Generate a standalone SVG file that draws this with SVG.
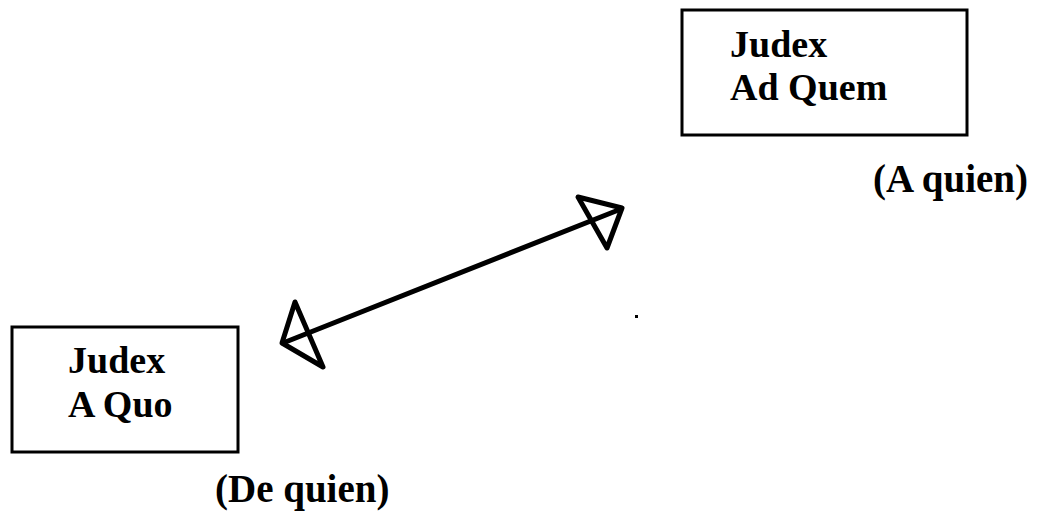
<svg xmlns="http://www.w3.org/2000/svg" width="1037" height="518" viewBox="0 0 1037 518">
  <style>
    .box { fill: #fff; stroke: #000; stroke-width: 3; }
    .lbl { font-family: "Liberation Serif", "Times New Roman", serif; font-weight: bold; font-size: 38px; fill: #000; }
    .note { font-size: 39px; }
    .conn { fill: none; stroke: #000; stroke-width: 5; stroke-linecap: round; stroke-linejoin: round; }
  </style>
  <rect width="1037" height="518" fill="#fff"/>

  <g id="node-judex-a-quo">
    <rect class="box" x="12" y="327" width="226" height="125"/>
    <text class="lbl" x="68" y="373">Judex</text>
    <text class="lbl" x="68" y="417">A Quo</text>
  </g>

  <g id="node-judex-ad-quem">
    <rect class="box" x="682" y="10" width="285" height="125"/>
    <text class="lbl" x="730" y="57">Judex</text>
    <text class="lbl" x="730" y="100">Ad Quem</text>
  </g>

  <g id="connectors">
    <line class="conn" x1="283" y1="343" x2="621" y2="209"/>
    <polygon class="conn" points="282,343 295,302 323,367"/>
    <polygon class="conn" points="622,208 578,197 607,248"/>
  </g>

  <text class="lbl note" x="873" y="192">(A quien)</text>
  <text class="lbl note" x="215" y="502">(De quien)</text>

  <rect x="635" y="315" width="3" height="3" fill="#000"/>
</svg>
